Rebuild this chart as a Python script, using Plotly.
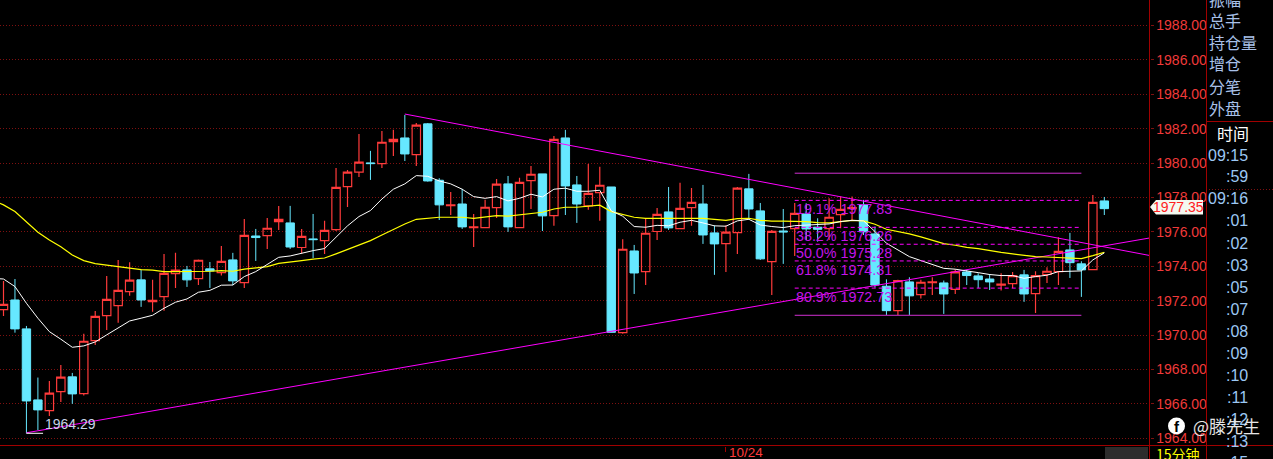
import plotly.graph_objects as go

W, H = 1273, 459

opens = [1971.48,1972.04,1970.36,1966.23,1965.61,1966.71,1967.57,1966.60,1969.68,1971.13,
1971.71,1972.53,1973.21,1971.95,1972.24,1973.57,1973.79,1973.28,1973.85,1973.63,
1974.37,1973.05,1975.76,1975.78,1976.60,1976.52,1975.09,1975.59,1975.49,1976.13,
1978.63,1979.47,1980.01,1979.97,1981.25,1981.46,1980.49,1982.28,1979.00,1977.53,
1977.62,1976.25,1976.25,1977.41,1978.79,1976.25,1978.98,1979.37,1976.95,1981.46,
1978.73,1977.51,1978.28,1978.61,1970.14,1974.89,1973.69,1976.02,1977.16,1976.19,
1977.41,1977.62,1975.94,1975.32,1975.96,1978.50,1977.22,1974.27,1976.05,1976.19,
1977.04,1976.27,1976.19,1977.00,1977.35,1977.57,1975.88,1972.84,1971.42,1973.09,
1972.35,1973.05,1973.03,1972.66,1973.67,1973.44,1973.26,1972.90,1972.99,1973.50,
1972.41,1973.52,1973.69,1974.95,1974.14,1973.81,1977.80]
closes = [1971.79,1970.36,1966.17,1965.65,1966.62,1967.55,1966.58,1969.64,1971.09,1972.08,
1972.60,1973.19,1972.04,1972.02,1973.59,1973.77,1973.21,1974.35,1973.73,1974.29,
1973.15,1975.80,1975.67,1976.21,1976.73,1975.12,1975.74,1975.55,1976.09,1978.59,
1979.47,1980.05,1979.97,1981.21,1981.38,1980.53,1982.20,1978.96,1977.57,1977.57,
1976.29,1976.29,1977.43,1978.77,1976.29,1978.88,1979.35,1976.93,1981.38,1978.67,
1977.62,1978.24,1978.71,1970.16,1974.99,1973.61,1975.92,1977.02,1976.23,1977.37,
1977.72,1975.82,1975.30,1975.98,1978.54,1977.33,1974.43,1976.03,1976.00,1977.08,
1976.17,1976.15,1976.85,1977.31,1977.41,1976.00,1972.91,1971.42,1973.17,1972.28,
1973.07,1973.09,1972.39,1973.67,1973.46,1973.22,1973.09,1972.97,1973.46,1972.39,
1973.46,1973.71,1974.87,1974.21,1973.79,1977.72,1977.35]
highs = [1973.15,1973.26,1970.53,1967.53,1967.33,1968.26,1967.80,1970.07,1971.40,1973.44,
1974.37,1974.23,1973.81,1973.21,1974.72,1974.78,1974.02,1974.40,1974.25,1975.18,
1974.78,1976.75,1976.17,1976.81,1977.51,1977.51,1976.17,1977.04,1976.64,1979.72,
1979.60,1981.69,1980.71,1981.87,1981.93,1982.80,1982.33,1982.33,1979.12,1978.32,
1978.50,1977.04,1977.86,1979.08,1979.25,1979.14,1979.83,1979.37,1981.58,1981.93,
1979.25,1979.95,1979.78,1978.61,1975.57,1975.24,1976.75,1977.39,1978.61,1978.85,
1978.55,1978.73,1976.38,1976.38,1978.61,1979.37,1977.68,1976.11,1977.33,1977.68,
1977.66,1976.79,1977.95,1978.05,1978.05,1977.86,1976.31,1973.24,1973.21,1973.36,
1973.21,1973.36,1973.17,1973.83,1973.79,1973.59,1973.55,1973.59,1973.67,1973.79,
1973.71,1973.94,1975.69,1975.94,1974.29,1978.15,1978.03]
lows = [1971.11,1970.14,1964.29,1964.48,1965.30,1966.11,1966.00,1966.48,1969.43,1970.30,
1970.71,1972.29,1971.64,1971.35,1971.42,1972.74,1972.80,1972.91,1972.74,1973.46,
1972.90,1972.74,1974.31,1975.01,1976.11,1975.01,1974.76,1974.48,1974.72,1976.05,
1977.45,1979.19,1979.02,1979.72,1980.41,1980.12,1979.83,1978.92,1976.69,1976.98,
1976.17,1975.12,1976.25,1976.81,1976.00,1976.25,1977.33,1976.05,1976.35,1976.98,
1976.52,1977.28,1976.64,1970.16,1970.07,1972.39,1972.91,1975.53,1976.11,1976.19,
1976.35,1975.30,1973.50,1973.67,1974.72,1976.69,1974.37,1972.33,1974.14,1974.60,
1975.53,1975.43,1975.53,1976.21,1976.69,1975.82,1972.76,1971.17,1971.17,1971.17,
1972.12,1972.33,1971.23,1972.39,1972.91,1972.74,1972.62,1972.59,1972.74,1971.93,
1971.29,1973.03,1972.91,1973.32,1972.22,1973.81,1976.98]

# moving averages, first value sits one bar before the first visible candle
ma_short = [1973.30,1973.26,1972.82,1971.85,1970.98,1970.20,1969.76,1969.29,1969.37,1969.60,
1970.01,1970.40,1970.82,1970.98,1971.15,1971.56,1971.91,1972.10,1972.49,1972.60,
1972.90,1972.91,1973.40,1973.69,1974.08,1974.52,1974.60,1974.76,1974.91,1975.03,
1975.67,1976.35,1976.89,1977.24,1977.91,1978.48,1978.79,1979.27,1979.23,1978.96,
1978.79,1978.48,1978.05,1977.95,1978.05,1977.80,1977.95,1978.19,1978.03,1978.48,
1978.54,1978.36,1978.36,1978.42,1977.22,1976.91,1976.31,1976.27,1976.38,1976.35,
1976.56,1976.67,1976.52,1976.35,1976.33,1976.64,1976.73,1976.40,1976.31,1976.25,
1976.36,1976.40,1976.44,1976.46,1976.60,1976.67,1976.64,1976.02,1975.34,1974.95,
1974.56,1974.33,1974.12,1973.88,1973.83,1973.75,1973.63,1973.52,1973.46,1973.46,
1973.30,1973.40,1973.48,1973.69,1973.71,1973.73,1974.37,1974.78]
ma_long = [1977.86,1977.57,1977.18,1976.60,1975.98,1975.53,1975.14,1974.66,1974.33,1974.15,
1974.06,1974.00,1973.92,1973.81,1973.77,1973.69,1973.69,1973.69,1973.69,1973.71,
1973.75,1973.71,1973.83,1973.92,1973.98,1974.17,1974.23,1974.33,1974.41,1974.48,
1974.72,1974.99,1975.22,1975.49,1975.82,1976.15,1976.46,1976.73,1976.79,1976.85,
1976.85,1976.85,1976.79,1976.85,1976.95,1976.91,1977.00,1977.08,1977.14,1977.33,
1977.43,1977.43,1977.51,1977.55,1977.18,1977.02,1976.85,1976.79,1976.79,1976.79,
1976.79,1976.81,1976.79,1976.73,1976.67,1976.77,1976.79,1976.67,1976.62,1976.62,
1976.62,1976.60,1976.54,1976.52,1976.60,1976.67,1976.64,1976.44,1976.15,1976.03,
1975.88,1975.71,1975.51,1975.32,1975.22,1975.10,1975.03,1974.91,1974.81,1974.72,
1974.62,1974.56,1974.54,1974.52,1974.50,1974.45,1974.62,1974.81]

trend_up_x, trend_up_y = [2, 100], [1964.32, 1975.65]
trend_down_x, trend_down_y = [35, 100], [1982.85, 1974.62]

fib_x = [69, 94]
fib_edges = [1979.41, 1971.15]
fib_prices = [1977.83, 1976.26, 1975.28, 1974.31, 1972.73]
fib_labels = ["19.1% 1977.83", "38.2% 1976.26", "50.0% 1975.28", "61.8% 1974.31", "80.9% 1972.73"]

low_mark_x, low_mark_y, low_label = [2, 3.45], [1964.29, 1964.29], "1964.29"

panel_labels = ["振幅", "总手", "持仓量", "增仓", "分笔", "外盘"]
time_labels = ["09:15", ":59", "09:16", ":01", ":02", ":03", ":05", ":07", ":08", ":09", ":10", ":11", ":12", ":13", ":15"]
y_ticks = list(range(1964, 1990, 2))
last_price = "1977.35"

RED = "#FF3B3B"
CYAN = "#66E8FF"
DKRED = "#A00000"
GRID = "#7E1010"
MAG = "#FF00FF"
SANS = "Liberation Sans, Arial, sans-serif"
CJK = "Noto Sans CJK SC, sans-serif"
idx = list(range(len(opens)))
ma_x = list(range(-1, len(opens)))

fig = go.Figure()
fig.add_trace(go.Candlestick(x=idx, open=opens, high=highs, low=lows, close=closes,
    increasing=dict(line=dict(color=RED, width=1.2), fillcolor="rgba(0,0,0,0)"),
    decreasing=dict(line=dict(color=CYAN, width=1), fillcolor=CYAN),
    whiskerwidth=0, showlegend=False, hoverinfo="skip"))
def line(x, y, color, width=1, dash=None):
    fig.add_trace(go.Scatter(x=x, y=y, mode="lines", showlegend=False, hoverinfo="skip",
                             line=dict(color=color, width=width, dash=dash)))
line(trend_up_x, trend_up_y, MAG)
line(trend_down_x, trend_down_y, MAG)
line(ma_x, ma_long, "#FFFF00", 1.2)
line(ma_x, ma_short, "#FFFFFF")
line(low_mark_x, low_mark_y, "#FFFFFF")
for p in fib_edges:
    line(fib_x, [p, p], "#D030D0")
for p in fib_prices:
    line(fib_x, [p, p], MAG, 1, "4px,3px")

def px(v): return v / W
def py(v): return 1 - v / H

ann = []
for p, t in zip(fib_prices, fib_labels):
    ann.append(dict(x=69, y=p, xref="x", yref="y", text=t, showarrow=False, xanchor="left", yanchor="top",
                    xshift=0, yshift=0, borderpad=0, font=dict(family=SANS, size=14.3, color="#C414E8")))
ann.append(dict(x=3.5, y=1964.29, xref="x", yref="y", text=low_label, showarrow=False, xanchor="left", yanchor="bottom",
                yshift=0, borderpad=0, font=dict(family=SANS, size=14, color="#C8D4E8")))
ann.append(dict(x=63, y=py(452), xref="x", yref="paper", text="10/24", showarrow=False, xanchor="left", yanchor="middle",
                xshift=2, borderpad=0, font=dict(family=SANS, size=13.5, color=RED)))
for t, yy in zip(panel_labels, [-1, 20, 42, 63, 86, 108]):
    ann.append(dict(x=px(1208), y=py(yy), xref="paper", yref="paper", text=t, showarrow=False, xanchor="left",
                    yanchor="middle", borderpad=0, font=dict(family=CJK, size=16, color="#A8C0E8")))
ann.append(dict(x=px(1233), y=py(133), xref="paper", yref="paper", text="时间", showarrow=False, xanchor="center",
                yanchor="middle", borderpad=0, font=dict(family=CJK, size=16, color="#FFFFFF")))
for i, t in enumerate(time_labels):
    ann.append(dict(x=px(1249), y=py(155 + 22 * i), xref="paper", yref="paper", text=t, showarrow=False, xanchor="right",
                    yanchor="middle", borderpad=0, font=dict(family=SANS, size=16, color="#9CC8F4")))
ann.append(dict(x=px(1178.5), y=py(207), xref="paper", yref="paper", text=last_price, showarrow=False, xanchor="center",
                yanchor="middle", borderpad=0, font=dict(family=SANS, size=14, color="#FF2020")))
ann.append(dict(x=px(1155), y=py(454), xref="paper", yref="paper", text="15分钟", showarrow=False, xanchor="left",
                yanchor="middle", borderpad=0, font=dict(family=CJK, size=14, color="#FFFF00")))
ann.append(dict(x=px(1176.5), y=py(426), xref="paper", yref="paper", text="<b>f</b>", showarrow=False, xanchor="center",
                yanchor="middle", borderpad=0, font=dict(family=SANS, size=15, color="#000000")))
ann.append(dict(x=px(1192), y=py(425), xref="paper", yref="paper", text="@滕先生", showarrow=False, xanchor="left",
                yanchor="middle", borderpad=0, font=dict(family=CJK, size=17, color="#E6E6E6")))

def rect(x0, y0, x1, y1, fill, lc=None):
    return dict(type="rect", xref="paper", yref="paper", x0=px(x0), x1=px(x1), y0=py(y0), y1=py(y1),
                fillcolor=fill, line=dict(width=1 if lc else 0, color=lc or fill), layer="above")
def seg(x0, y0, x1, y1, color=DKRED, dash=None):
    return dict(type="line", xref="paper", yref="paper", x0=px(x0), x1=px(x1), y0=py(y0), y1=py(y1),
                line=dict(color=color, width=1, dash=dash), layer="above")
shapes = [
    seg(1149.5, 0, 1149.5, H), seg(1206.5, 0, 1206.5, H),
    seg(0, 445.5, W, 445.5), seg(1206.5, 121.5, W, 121.5),
    seg(1209, 189.5, W, 189.5, GRID, "1px,2px"),
    rect(1105, 447, 1148, H, "#2C2C2C"),
    rect(1156, 200, 1203, 214.5, "#F4F8F0"),
    dict(type="path", xref="paper", yref="paper", layer="above", fillcolor="#F4F8F0", line=dict(width=0),
         path=f"M {px(1150)} {py(207)} L {px(1156)} {py(200)} L {px(1156)} {py(214.5)} Z"),
    dict(type="circle", xref="paper", yref="paper", layer="above", fillcolor="#FFFFFF", line=dict(width=0),
         x0=px(1168), x1=px(1185), y0=py(434.5), y1=py(417.5)),
]

fig.update_layout(
    width=W, height=H, autosize=False, margin=dict(l=0, r=0, t=0, b=0, pad=0),
    paper_bgcolor="#000000", plot_bgcolor="#000000", boxgap=0.27, boxgroupgap=0, showlegend=False,
    hovermode=False, annotations=ann, shapes=shapes,
    xaxis=dict(domain=[0, 1149.5 / W], range=[-0.305, 99.94], rangeslider=dict(visible=False),
               showgrid=False, zeroline=False, showline=False, tickmode="array", tickvals=[63], ticktext=[""],
               ticks="outside", ticklen=5, tickcolor=DKRED, tickwidth=1),
    yaxis=dict(domain=[1 - 445.5 / H, 1], range=[1963.58, 1989.48], side="right", tickmode="array",
               tickvals=y_ticks, ticktext=[f"{v}.00" for v in y_ticks], showgrid=True, gridcolor=GRID,
               griddash="1px,2px", gridwidth=1, zeroline=False, showline=False, ticks="outside", ticklen=3,
               tickcolor=GRID, tickfont=dict(family=SANS, size=14, color="#F03A3A")),
)
fig.write_html("out.html", config=dict(displayModeBar=False),
               post_script="document.body.style.margin='0';document.body.style.background='#000';")
